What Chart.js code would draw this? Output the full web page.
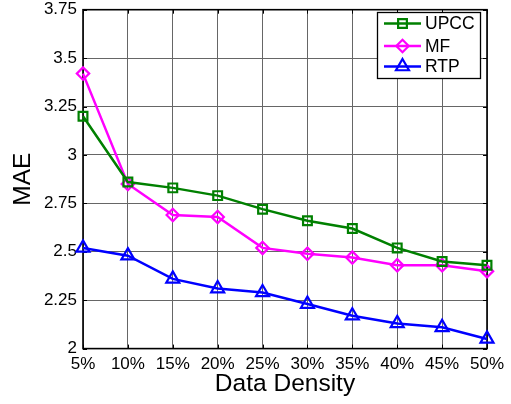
<!DOCTYPE html>
<html><head><meta charset="utf-8">
<script src="https://cdn.jsdelivr.net/npm/chart.js@4.4.0/dist/chart.umd.min.js"></script>
<style>html,body{margin:0;padding:0;background:#fff;overflow:hidden}#wrap{width:511px;height:404px;position:relative}</style>
</head><body><div id="wrap"><canvas id="c" width="511" height="404"></canvas></div>
<script>
const categories = ['5%','10%','15%','20%','25%','30%','35%','40%','45%','50%'];
const upcc = [3.20, 2.86, 2.83, 2.79, 2.72, 2.66, 2.62, 2.52, 2.45, 2.43];
const mf   = [3.42, 2.85, 2.69, 2.68, 2.52, 2.49, 2.47, 2.43, 2.43, 2.40];
const rtp  = [2.52, 2.48, 2.36, 2.31, 2.29, 2.23, 2.17, 2.13, 2.11, 2.05];
const yTickValues = [2, 2.25, 2.5, 2.75, 3, 3.25, 3.5, 3.75];
const yTickLabels = ['2','2.25','2.5','2.75','3','3.25','3.5','3.75'];
const seriesNames = ['UPCC','MF','RTP'];
const xTitle = 'Data Density';
const yTitle = 'MAE';

const FONT = 'Liberation Sans, Arial, Helvetica, sans-serif';

function mk(label, data, color, style, r) {
  return {
    label, data, borderColor: color, borderWidth: 2.5,
    pointStyle: style, pointRadius: r, pointHoverRadius: r,
    pointBorderColor: color, pointBorderWidth: 2.2,
    pointBackgroundColor: 'rgba(0,0,0,0)', tension: 0, clip: false
  };
}

function drawMarker(ctx, style, x, y, r) {
  ctx.beginPath();
  if (style === 'rect') {
    const s = Math.SQRT1_2 * r;
    ctx.rect(x - s, y - s, 2 * s, 2 * s);
  } else if (style === 'rectRot') {
    ctx.moveTo(x, y - r); ctx.lineTo(x + r, y); ctx.lineTo(x, y + r); ctx.lineTo(x - r, y); ctx.closePath();
  } else if (style === 'triangle') {
    const a = -Math.PI / 2;
    for (let i = 0; i < 3; i++) {
      const t = a + i * 2 * Math.PI / 3;
      const px = x + Math.cos(t) * r, py = y + Math.sin(t) * r;
      if (i === 0) ctx.moveTo(px, py); else ctx.lineTo(px, py);
    }
    ctx.closePath();
  }
  ctx.stroke();
}

const framePlugin = {
  id: 'frame',
  beforeDatasetsDraw(chart) {
    const {ctx, chartArea: a, scales} = chart;
    ctx.save();
    ctx.strokeStyle = '#000';
    ctx.lineWidth = 1;
    const tl = 4;
    ctx.beginPath();
    scales.x.ticks.forEach((t, i) => {
      const px = Math.round(scales.x.getPixelForTick(i)) + 0.5;
      ctx.moveTo(px, a.bottom); ctx.lineTo(px, a.bottom - tl);
      ctx.moveTo(px, a.top); ctx.lineTo(px, a.top + tl);
    });
    scales.y.ticks.forEach((t) => {
      const py = Math.round(scales.y.getPixelForValue(t.value)) + 0.5;
      ctx.moveTo(a.left, py); ctx.lineTo(a.left + tl, py);
      ctx.moveTo(a.right, py); ctx.lineTo(a.right - tl, py);
    });
    ctx.stroke();
    ctx.lineWidth = 1.6;
    ctx.strokeRect(a.left, a.top, a.right - a.left, a.bottom - a.top);
    ctx.restore();
  },
  afterDraw(chart) {
    const {ctx} = chart;
    const bx = 377, by = 12, bw = 103, bh = 66;
    ctx.save();
    ctx.fillStyle = '#fff';
    ctx.fillRect(bx, by, bw, bh);
    ctx.strokeStyle = '#000';
    ctx.lineWidth = 1.3;
    ctx.strokeRect(bx + 0.5, by + 0.5, bw, bh);
    const rows = [23.5, 46, 66.5];
    chart.data.datasets.forEach((ds, i) => {
      const y = rows[i];
      ctx.strokeStyle = ds.borderColor;
      ctx.lineWidth = 2.5;
      ctx.beginPath(); ctx.moveTo(384, y); ctx.lineTo(421, y); ctx.stroke();
      ctx.lineWidth = 2.2;
      drawMarker(ctx, ds.pointStyle, 402.5, y, ds.pointRadius);
      ctx.fillStyle = '#000';
      ctx.font = '17.5px ' + FONT;
      ctx.textAlign = 'left';
      ctx.textBaseline = 'middle';
      ctx.fillText(seriesNames[i], 425, y + 1);
    });
    ctx.restore();
  }
};

new Chart(document.getElementById('c'), {
  type: 'line',
  data: {
    labels: categories,
    datasets: [
      mk(seriesNames[0], upcc, '#008000', 'rect', 6.2),
      mk(seriesNames[1], mf, '#ff00ff', 'rectRot', 6.2),
      mk(seriesNames[2], rtp, '#0000ff', 'triangle', 7.5)
    ]
  },
  plugins: [framePlugin],
  options: {
    responsive: false,
    animation: false,
    devicePixelRatio: 1,
    layout: {padding: {left: 0, right: 24, top: 5.6, bottom: 0}},
    plugins: {legend: {display: false}, tooltip: {enabled: false}},
    scales: {
      x: {
        type: 'category',
        offset: false,
        grid: {color: '#666', borderDash: [1, 4], drawTicks: false, lineWidth: 1},
        border: {display: false},
        ticks: {color: '#000', font: {family: FONT, size: 17}, padding: 5.2, maxRotation: 0, autoSkip: false},
        title: {display: true, text: xTitle, color: '#000', font: {family: FONT, size: 24.5}, padding: {top: 0, bottom: 5.3}},
        afterFit(s) { s.height = 55.4; s.paddingLeft = 0; s.paddingRight = 0; }
      },
      y: {
        min: 2, max: 3.75,
        grid: {color: '#666', borderDash: [1, 4], drawTicks: false, lineWidth: 1},
        border: {display: false},
        afterBuildTicks(s) { s.ticks = yTickValues.map(v => ({value: v})); },
        ticks: {color: '#000', font: {family: FONT, size: 17}, padding: 6,
          callback(v) { const i = yTickValues.indexOf(v); return i >= 0 ? yTickLabels[i] : ''; }},
        title: {display: true, text: yTitle, color: '#000', font: {family: FONT, size: 24.5}, padding: {top: 9, bottom: 0}},
        afterFit(s) { s.width = 83; s.paddingTop = 0; s.paddingBottom = 0; }
      }
    }
  }
});
</script>
</body></html>
